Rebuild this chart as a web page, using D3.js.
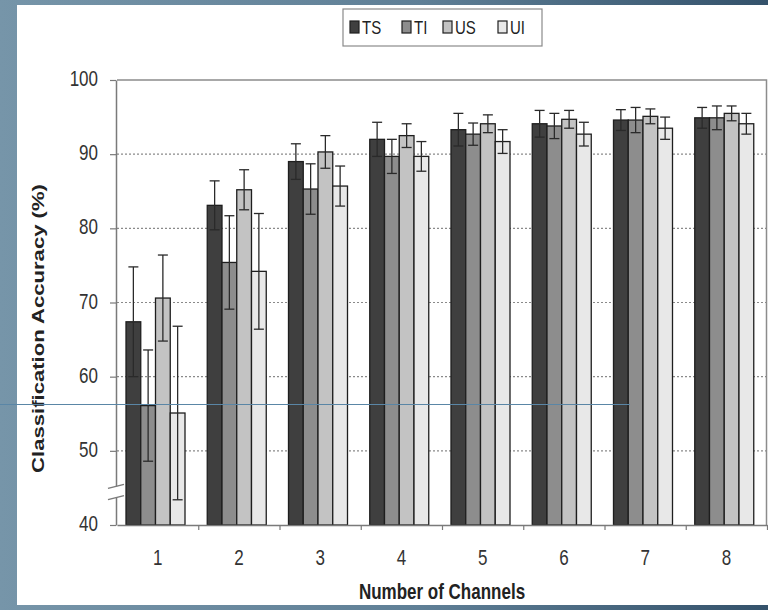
<!DOCTYPE html>
<html>
<head>
<meta charset="utf-8">
<script src="https://cdn.jsdelivr.net/npm/d3@7"></script>
<style>
    body { margin: 0; background: linear-gradient(90deg, #7695a9 0%, #5f7f96 55%, #34526b 100%); }
    svg { display: block; font-family: Arial, "Liberation Sans", sans-serif; }
</style>
</head>
<body>
<div id="chart"></div>
<script>
const channels = ['1', '2', '3', '4', '5', '6', '7', '8'];
const series = ['TS', 'TI', 'US', 'UI'];

const meanTS = [67.4, 83.1, 89.0, 92.0, 93.3, 94.1, 94.6, 94.9];
const errTS = [7.4, 3.3, 2.4, 2.3, 2.2, 1.8, 1.4, 1.4];
const meanTI = [56.1, 75.4, 85.3, 89.7, 92.7, 93.8, 94.6, 94.9];
const errTI = [7.5, 6.3, 3.4, 2.3, 1.5, 1.7, 1.7, 1.6];
const meanUS = [70.6, 85.2, 90.3, 92.5, 94.1, 94.7, 95.1, 95.5];
const errUS = [5.8, 2.7, 2.2, 1.6, 1.2, 1.2, 1.0, 1.0];
const meanUI = [55.1, 74.2, 85.7, 89.7, 91.7, 92.7, 93.5, 94.1];
const errUI = [11.7, 7.8, 2.7, 2.0, 1.6, 1.6, 1.5, 1.4];

const yTicks = [40, 50, 60, 70, 80, 90, 100];
const gridValues = [50, 60, 70, 80, 90];

const colors = { TS: '#3f3f3f', TI: '#8d8d8d', US: '#c3c3c3', UI: '#e8e8e8' };
const means = { TS: meanTS, TI: meanTI, US: meanUS, UI: meanUI };
const errs = { TS: errTS, TI: errTI, US: errUS, UI: errUI };

const width = 768, height = 610;
const margin = { left: 117, right: 1, top: 80, bottom: 85 };
const stretch = 1.25; // the text in the source picture is drawn tall and narrow

const svg = d3.select('#chart').append('svg')
    .attr('width', width)
    .attr('height', height);

// white slide panel
svg.append('rect')
    .attr('x', 17).attr('y', 5)
    .attr('width', width - 17).attr('height', 600)
    .attr('fill', '#ffffff');

const x = d3.scaleBand().domain(channels).range([margin.left, width - margin.right]);
const xSub = d3.scaleBand().domain(series).range([9, 68]);
const xEdge = d3.scaleLinear().domain([0, channels.length]).range([margin.left, width - margin.right]);
const y = d3.scaleLinear().domain([40, 100]).range([height - margin.bottom, margin.top]);

const rows = [];
channels.forEach((c, i) => {
    series.forEach(s => rows.push({ channel: c, series: s, value: means[s][i], err: errs[s][i] }));
});

// grid
svg.append('g').selectAll('line')
    .data(gridValues)
    .join('line')
    .attr('x1', margin.left).attr('x2', width - margin.right)
    .attr('y1', d => y(d)).attr('y2', d => y(d))
    .attr('stroke', '#8a8a8a')
    .attr('stroke-width', 1.2)
    .attr('stroke-dasharray', '2,2');

// plot frame (top / right)
svg.append('path')
    .attr('d', `M${margin.left},${y(100)}H${width - margin.right - 0.5}V${y(40)}`)
    .attr('fill', 'none')
    .attr('stroke', '#8c8c8c')
    .attr('stroke-width', 1.5);

// bars
svg.append('g').selectAll('rect')
    .data(rows)
    .join('rect')
    .attr('x', d => x(d.channel) + xSub(d.series))
    .attr('y', d => y(d.value))
    .attr('width', xSub.bandwidth())
    .attr('height', d => y(40) - y(d.value))
    .attr('fill', d => colors[d.series])
    .attr('stroke', '#1e1e1e')
    .attr('stroke-width', 1.3);

// error bars
const eb = svg.append('g').selectAll('g')
    .data(rows)
    .join('g')
    .attr('transform', d => `translate(${x(d.channel) + xSub(d.series) + xSub.bandwidth() / 2},0)`)
    .attr('stroke', '#2a2a2a')
    .attr('stroke-width', 1.3);
eb.append('line')
    .attr('y1', d => y(d.value - d.err))
    .attr('y2', d => y(d.value + d.err));
eb.append('line')
    .attr('x1', -5).attr('x2', 5)
    .attr('y1', d => y(d.value + d.err)).attr('y2', d => y(d.value + d.err));
eb.append('line')
    .attr('x1', -5).attr('x2', 5)
    .attr('y1', d => y(d.value - d.err)).attr('y2', d => y(d.value - d.err));

// y axis
const yAxis = svg.append('g')
    .attr('transform', `translate(${margin.left - 1},0)`)
    .call(d3.axisLeft(y).tickValues(yTicks).tickSize(6).tickPadding(12).tickSizeOuter(0));
yAxis.select('.domain').attr('stroke', '#7a7a7a').attr('stroke-width', 1.5);
yAxis.selectAll('.tick line').attr('stroke', '#7a7a7a').attr('stroke-width', 1.2);
yAxis.selectAll('.tick text')
    .attr('fill', '#333')
    .attr('dy', '0.26em')
    .attr('transform', `scale(1,${stretch})`)
    .style('font-size', '17px');

// axis break
svg.append('rect')
    .attr('x', margin.left - 4).attr('y', y(45.2))
    .attr('width', 7).attr('height', y(43.7) - y(45.2))
    .attr('fill', '#fff');
[45.2, 43.7].forEach(v => {
    svg.append('line')
        .attr('x1', margin.left - 9).attr('x2', margin.left + 7)
        .attr('y1', y(v) + 2).attr('y2', y(v) - 2)
        .attr('stroke', '#7a7a7a').attr('stroke-width', 1.3);
});

// x axis: boundary ticks
const xTickAxis = svg.append('g')
    .attr('transform', `translate(0,${y(40)})`)
    .call(d3.axisBottom(xEdge).ticks(channels.length).tickFormat('').tickSize(5).tickSizeOuter(0));
xTickAxis.select('.domain').attr('stroke', '#7a7a7a').attr('stroke-width', 1.5);
xTickAxis.selectAll('.tick line').attr('stroke', '#7a7a7a').attr('stroke-width', 1.2);
xTickAxis.selectAll('.tick').filter(d => d === 0).remove();

// x axis: labels
const xLabAxis = svg.append('g')
    .attr('transform', `translate(0,${y(40)})`)
    .call(d3.axisBottom(x).tickSize(0).tickPadding(20));
xLabAxis.select('.domain').remove();
xLabAxis.selectAll('.tick text')
    .attr('fill', '#333')
    .attr('transform', `scale(1,${stretch})`)
    .style('font-size', '17px');

// axis titles
svg.append('text')
    .attr('transform', `translate(${(margin.left + width - margin.right) / 2},599) scale(1,${stretch})`)
    .attr('text-anchor', 'middle')
    .attr('fill', '#222')
    .style('font-size', '17px')
    .style('font-weight', 'bold')
    .text('Number of Channels');

svg.append('text')
    .attr('transform', `translate(44,${(y(40) + y(100)) / 2 + 26}) rotate(-90) scale(1.3,1)`)
    .attr('text-anchor', 'middle')
    .attr('fill', '#222')
    .style('font-size', '17px')
    .style('font-weight', 'bold')
    .text('Classification Accuracy (%)');

// legend
const legend = svg.append('g').attr('transform', 'translate(343,9)');
legend.append('rect')
    .attr('width', 199).attr('height', 37)
    .attr('fill', '#fff')
    .attr('stroke', '#8a8a8a')
    .attr('stroke-width', 1.2);
const legendX = [7, 59, 100, 155];
const li = legend.selectAll('g.item')
    .data(series)
    .join('g')
    .attr('class', 'item')
    .attr('transform', (d, i) => `translate(${legendX[i]},0)`);
li.append('rect')
    .attr('y', 12).attr('width', 9).attr('height', 12)
    .attr('fill', d => colors[d])
    .attr('stroke', '#1e1e1e')
    .attr('stroke-width', 1.2);
li.append('text')
    .attr('transform', `translate(12,25) scale(1,${stretch})`)
    .attr('fill', '#222')
    .style('font-size', '15px')
    .text(d => d);

// stray slide line
svg.append('line')
    .attr('x1', 0).attr('x2', 630)
    .attr('y1', 404.5).attr('y2', 404.5)
    .attr('stroke', '#5a86a6')
    .attr('stroke-width', 1);
</script>
</body>
</html>
